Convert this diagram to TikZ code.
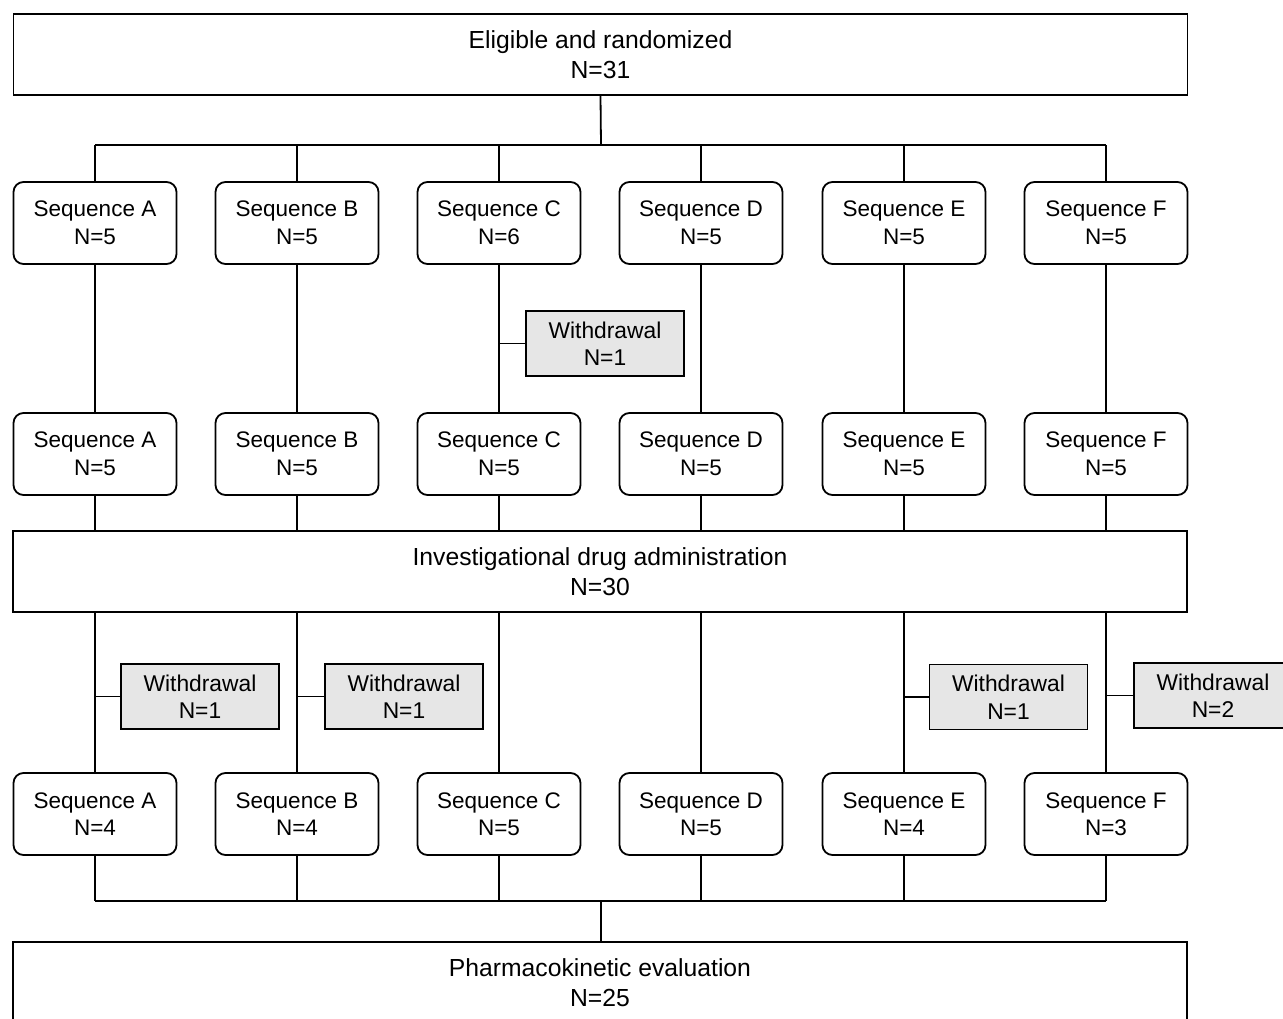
\documentclass[tikz,border=0pt]{standalone}
\usepackage{fontspec}
\setmainfont{Liberation Sans}
\definecolor{wdgray}{RGB}{230,230,230}
\begin{document}
\begin{tikzpicture}[x=1pt,y=-1pt,line width=1.8pt,
  every node/.style={font=\fontsize{22.5}{27.5}\selectfont,align=center,inner sep=0pt},
  seqbox/.style={draw,rounded corners=10pt,minimum width=163pt,minimum height=82pt},
  wdbox/.style={draw,fill=wdgray,minimum width=158pt,minimum height=65pt,font=\fontsize{22.8}{27.5}\selectfont},
  bigbox/.style={draw,minimum width=1174pt,minimum height=81pt,font=\fontsize{24.7}{29.5}\selectfont}]
\useasboundingbox (0,0) rectangle (1283,1019);
\clip (0,0) rectangle (1283,1019);
% top
\node[bigbox] (top) at (600.5,54.5) {Eligible and randomized\\N=31};
% row 1
\node[seqbox] (a1) at (95,223) {Sequence A\\N=5};
\node[seqbox] (b1) at (297,223) {Sequence B\\N=5};
\node[seqbox] (c1) at (499,223) {Sequence C\\N=6};
\node[seqbox] (d1) at (701,223) {Sequence D\\N=5};
\node[seqbox] (e1) at (904,223) {Sequence E\\N=5};
\node[seqbox] (f1) at (1106,223) {Sequence F\\N=5};
% row 2
\node[seqbox] (a2) at (95,454) {Sequence A\\N=5};
\node[seqbox] (b2) at (297,454) {Sequence B\\N=5};
\node[seqbox] (c2) at (499,454) {Sequence C\\N=5};
\node[seqbox] (d2) at (701,454) {Sequence D\\N=5};
\node[seqbox] (e2) at (904,454) {Sequence E\\N=5};
\node[seqbox] (f2) at (1106,454) {Sequence F\\N=5};
% investigational
\node[bigbox] (inv) at (600,571.5) {Investigational drug administration\\N=30};
% row 3
\node[seqbox] (a3) at (95,814) {Sequence A\\N=4};
\node[seqbox] (b3) at (297,814) {Sequence B\\N=4};
\node[seqbox] (c3) at (499,814) {Sequence C\\N=5};
\node[seqbox] (d3) at (701,814) {Sequence D\\N=5};
\node[seqbox] (e3) at (904,814) {Sequence E\\N=4};
\node[seqbox] (f3) at (1106,814) {Sequence F\\N=3};
% bottom
\node[bigbox] (pk) at (600,982.5) {Pharmacokinetic evaluation\\N=25};
% withdrawals
\node[wdbox] (wc) at (605,343.5) {Withdrawal\\N=1};
\node[wdbox] (wa) at (200,696.5) {Withdrawal\\N=1};
\node[wdbox] (wb) at (404,696.5) {Withdrawal\\N=1};
\node[wdbox] (we) at (1008.5,697) {Withdrawal\\N=1};
\node[wdbox] (wf) at (1213,695.5) {Withdrawal\\N=2};
% buses
\coordinate (bustop) at (601,145);
\coordinate (busbot) at (601,901);
\draw (top.south) -- (bustop);
\draw (a1.north |- bustop) -- (f1.north |- bustop);
\draw (a3.south |- busbot) -- (f3.south |- busbot);
\draw (busbot) -- (busbot |- pk.north);
\foreach \c in {a,b,c,d,e,f}{
  \draw (\c1.north) -- (\c1.north |- bustop);
  \draw (\c1.south) -- (\c2.north);
  \draw (\c2.south) -- (\c2.south |- inv.north);
  \draw (\c3.north |- inv.south) -- (\c3.north);
  \draw (\c3.south) -- (\c3.south |- busbot);
}
\draw (wc.west) -- (wc.west -| c1.south);
\draw (wa.west) -- (wa.west -| a3.north);
\draw (wb.west) -- (wb.west -| b3.north);
\draw (we.west) -- (we.west -| e3.north);
\draw (wf.west) -- (wf.west -| f3.north);
\end{tikzpicture}
\end{document}
